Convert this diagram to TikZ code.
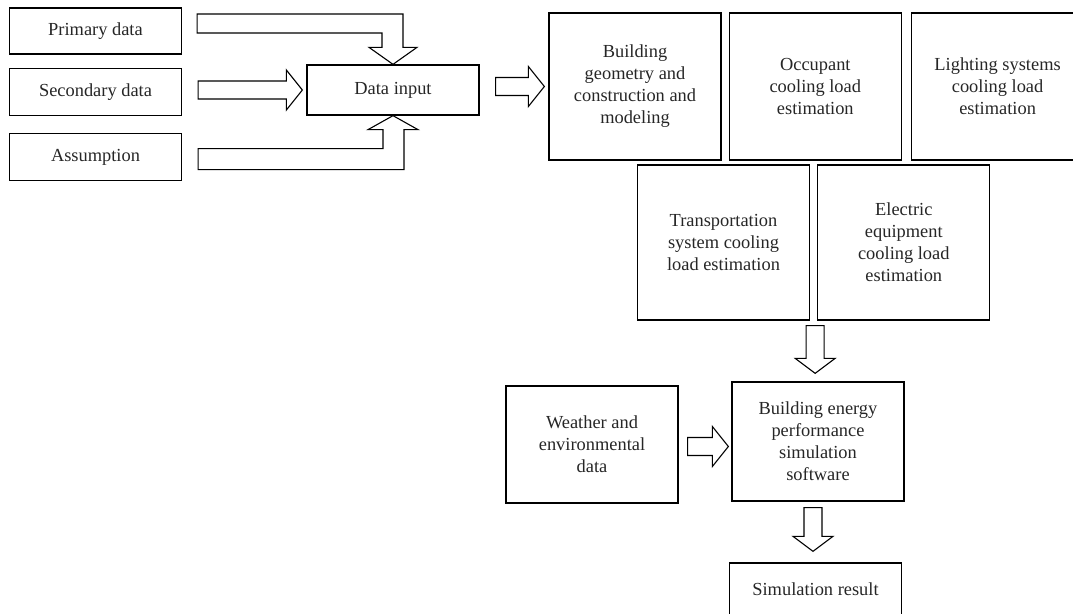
\documentclass[tikz,border=0pt]{standalone}
\usepackage{fontspec}
\setmainfont{Liberation Serif}
\usepackage{tikz}
\usetikzlibrary{positioning,calc}
\tikzset{
  box/.style={draw, line width=1.3pt, minimum width=172pt, align=center, inner sep=2pt,
    font=\fontsize{18.4}{22}\selectfont, text=black!85},
  blockarrow/.style={draw, line width=1.1pt, line join=miter}
}
\newcommand{\rightblock}[2]{%
  \draw[blockarrow] let \p1=(#1), \p2=(#2) in
    (\x1,\y2+9pt) -- (\x2-16pt,\y2+9pt) -- (\x2-16pt,\y2+20pt) -- (\p2)
    -- (\x2-16pt,\y2-20pt) -- (\x2-16pt,\y2-9pt) -- (\x1,\y2-9pt) -- cycle;}
\newcommand{\downblock}[2]{%
  \draw[blockarrow] let \p1=(#1), \p2=(#2) in
    (\x1-9pt,\y1) -- (\x1-9pt,\y2+15pt) -- (\x1-20pt,\y2+15pt) -- (\x1,\y2)
    -- (\x1+20pt,\y2+15pt) -- (\x1+9pt,\y2+15pt) -- (\x1+9pt,\y1) -- cycle;}

\begin{document}
\begin{tikzpicture}[x=1pt, y=-1pt]
    \useasboundingbox (0,0) rectangle (1073,613);
    \node[box, minimum height=46pt] (prim) at (95.5,31) {Primary data};
    \node[box, minimum height=47pt, below=13pt of prim] (sec) {Secondary data};
    \node[box, minimum height=47pt, below=17pt of sec] (assum) {Assumption};
    \node[box, minimum height=50pt] (input) at (393,90) {Data input};

    \node[box, minimum height=147pt] (build) at (635,86.5) {Building\\geometry and\\construction and\\modeling};
    \node[box, minimum height=147pt, right=7pt of build] (occ) {Occupant\\cooling load\\estimation};
    \node[box, minimum height=147pt, right=9pt of occ] (light) {Lighting systems\\cooling load\\estimation};
    \node[box, minimum height=155pt] (trans) at (723.5,242.5) {Transportation\\system cooling\\load estimation};
    \node[box, minimum height=155pt, right=7pt of trans] (elec) {Electric\\equipment\\cooling load\\estimation};

    \node[box, minimum height=119pt] (bes) at (818,441.5) {Building energy\\performance\\simulation\\software};
    \node[box, minimum height=117pt] (weather) at (592,444.5) {Weather and\\environmental\\data};
    \node[box, minimum height=52pt] (result) at (815.5,589) {Simulation result};

    % bent arrows into the data input
    \draw[blockarrow] ($(prim.east)+(15,-17)$) -| ($(input.north)+(10,-17)$) -- ++(14,0)
      -- (input.north) -- ++(-24,-17) -- ++(13,0) |- ($(prim.east)+(15,2)$) -- cycle;
    \draw[blockarrow] ($(assum.east)+(16,12.5)$) -| ($(input.south)+(11,14)$) -- ++(14,0)
      -- (input.south) -- ++(-25,14) -- ++(15,0) |- ($(assum.east)+(16,-8.5)$) -- cycle;

    \rightblock{$(sec.east)+(16,0)$}{$(input.west)+(-4,0)$}
    \rightblock{$(input.east)+(16,0)$}{$(build.west)+(-4,0)$}
    \rightblock{$(weather.east)+(9,0)$}{$(bes.west)+(-3,5)$}
    \downblock{$(elec.south west)+(-2,5)$}{$(bes.north)+(0,-8)$}
    \downblock{$(bes.south)+(-5,6)$}{$(result.north)+(0,-11)$}
\end{tikzpicture}
\end{document}
